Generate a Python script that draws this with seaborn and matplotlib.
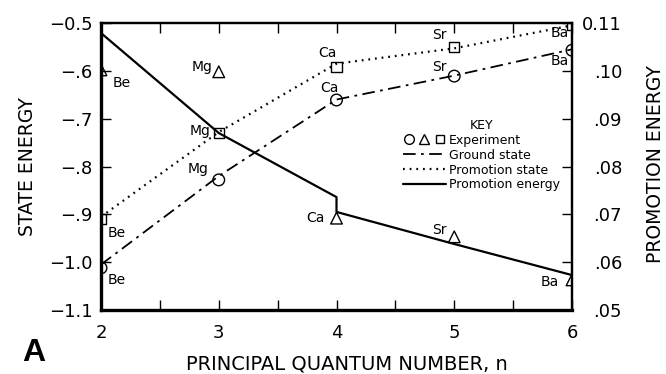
import matplotlib
matplotlib.use("Agg")
import matplotlib.pyplot as plt
from matplotlib.lines import Line2D
from matplotlib.legend_handler import HandlerTuple
import seaborn as sns
import pandas as pd

# ---- data -------------------------------------------------------------
n_vals = [2, 3, 4, 5, 6]
elements = ["Be", "Mg", "Ca", "Sr", "Ba"]

# experimental values
ground_exp = [-1.012, -0.828, -0.661, -0.611, -0.557]
promo_state_exp = [-0.910, -0.730, -0.592, -0.550, -0.504]
promo_energy_exp = [0.1002, 0.0998, 0.0692, 0.0653, 0.0563]

# calculated curves
ground_calc = [-1.005, -0.820, -0.660, -0.610, -0.555]
promo_state_calc = [-0.905, -0.728, -0.585, -0.553, -0.505]
promo_energy_n = [2, 3, 4, 4, 5, 6]
promo_energy_calc = [0.1079, 0.0870, 0.0736, 0.0705, 0.0638, 0.0573]

left_ticks = [-1.1, -1.0, -0.9, -0.8, -0.7, -0.6, -0.5]
left_labels = ["\u22121.1", "\u22121.0", "\u2212.9", "\u2212.8", "\u2212.7", "\u2212.6", "\u22120.5"]
right_ticks = [0.05, 0.06, 0.07, 0.08, 0.09, 0.10, 0.11]
right_labels = [".05", ".06", ".07", ".08", ".09", ".10", "0.11"]

# label offsets (pixels) for the element names next to each marker
off_ground = [(16, -12), (-21, 11), (-7, 12), (-15, 9), (-12, -11)]
off_state = [(16, -14), (-19, 2), (-9, 14), (-15, 12), (-12, -8)]
off_energy = [(21, -13), (-17, 5), (-21, 0), (-15, 7), (-22, -2)]

# ---- figure -----------------------------------------------------------
sns.set_theme(style="ticks")
plt.rcParams["font.family"] = ["DejaVu Sans"]
plt.rcParams.update({"text.color": "black", "axes.labelcolor": "black",
                     "xtick.color": "black", "ytick.color": "black"})

fig = plt.figure(figsize=(6.66, 3.74), dpi=100)
ax = fig.add_axes([101 / 666, 1 - 310 / 374, 471 / 666, 287 / 374])
ax2 = ax.twinx()

# state energies on the left axis
sns.lineplot(x=n_vals, y=ground_calc, ax=ax, color="black", lw=1.3,
             linestyle=(0, (7, 3, 1.5, 3)), estimator=None)
sns.lineplot(x=n_vals, y=promo_state_calc, ax=ax, color="black", lw=1.6,
             linestyle=(0, (0.8, 2.2)), estimator=None)
sns.scatterplot(x=n_vals, y=ground_exp, ax=ax, marker="o", s=70,
                facecolor="none", edgecolor="black", linewidth=1.0, zorder=3)
sns.scatterplot(x=n_vals, y=promo_state_exp, ax=ax, marker="s", s=55,
                facecolor="none", edgecolor="black", linewidth=1.0, zorder=3)

# promotion energy on the right axis
pe = pd.DataFrame({"n": promo_energy_n, "E": promo_energy_calc})
sns.lineplot(data=pe, x="n", y="E", ax=ax2, color="black", lw=1.6,
             estimator=None, sort=False)
sns.scatterplot(x=n_vals, y=promo_energy_exp, ax=ax2, marker="^", s=70,
                facecolor="none", edgecolor="black", linewidth=1.0, zorder=3)

# element names
lab_kw = dict(textcoords="offset pixels", ha="center", va="center",
              fontsize=10, annotation_clip=False)
for el, n, v, o in zip(elements, n_vals, ground_exp, off_ground):
    ax.annotate(el, (n, v), xytext=o, **lab_kw)
for el, n, v, o in zip(elements, n_vals, promo_state_exp, off_state):
    ax.annotate(el, (n, v), xytext=o, **lab_kw)
for el, n, v, o in zip(elements, n_vals, promo_energy_exp, off_energy):
    ax2.annotate(el, (n, v), xytext=o, **lab_kw)

# axes limits and ticks
ax.set_xlim(2, 6)
ax.set_ylim(-1.1, -0.5)
ax2.set_ylim(0.05, 0.11)
ax.set_xticks(n_vals)
ax.set_xticks([2.5, 3.5, 4.5, 5.5], minor=True)
ax.set_yticks(left_ticks, left_labels)
ax2.set_yticks(right_ticks, right_labels)
for t in ax2.get_yticklabels():
    t.set_ha("right")

ax.tick_params(axis="x", which="both", direction="in", top=True, bottom=True,
               length=7, width=1, labelsize=13, pad=10, color="black")
ax.tick_params(axis="y", direction="in", left=True, right=False, length=7,
               width=1, labelsize=13, pad=6, color="black")
ax2.tick_params(axis="y", direction="in", right=True, length=7, width=1,
                labelsize=13, pad=36, color="black")

for a in (ax, ax2):
    for s in a.spines.values():
        s.set_linewidth(1.6)
        s.set_color("black")
ax.spines["left"].set_linewidth(2.4)
ax.spines["bottom"].set_linewidth(2.4)
ax2.spines["left"].set_visible(False)
ax2.spines["bottom"].set_visible(False)

ax.set_xlabel("PRINCIPAL QUANTUM NUMBER, n", fontsize=14)
ax.xaxis.set_label_coords(0.522, -0.155)
ax.set_ylabel("STATE ENERGY", fontsize=13.5)
ax.yaxis.set_label_coords(-0.136, 0.5)
ax2.set_ylabel("PROMOTION ENERGY", fontsize=13.5)
ax2.yaxis.set_label_coords(1.157, 0.51)

# key
exp_handles = (
    Line2D([], [], marker="o", ls="", mfc="none", mec="black", ms=7, mew=1),
    Line2D([], [], marker="^", ls="", mfc="none", mec="black", ms=7, mew=1),
    Line2D([], [], marker="s", ls="", mfc="none", mec="black", ms=6, mew=1),
)
handles = [
    exp_handles,
    Line2D([], [], color="black", lw=1.3, ls=(0, (7, 3, 1.5, 3))),
    Line2D([], [], color="black", lw=1.6, ls=(0, (0.8, 2.2))),
    Line2D([], [], color="black", lw=1.6),
]
labels = ["Experiment", "Ground state", "Promotion state", "Promotion energy"]
leg = ax.legend(handles, labels, handler_map={tuple: HandlerTuple(ndivide=None, pad=0.3)},
                title="KEY", frameon=False, fontsize=9, title_fontsize=9,
                loc="upper left", bbox_to_anchor=(403 / 666, 1 - 119 / 374),
                bbox_transform=fig.transFigure, borderpad=0, borderaxespad=0,
                handlelength=3.4, handletextpad=0.3, labelspacing=0.15)
leg.set_zorder(5)

fig.text(22 / 666, 1 - 361 / 374, "A", fontsize=23, fontweight="bold",
         family="Liberation Sans", ha="left", va="baseline")

fig.savefig("out.png", dpi=100)
